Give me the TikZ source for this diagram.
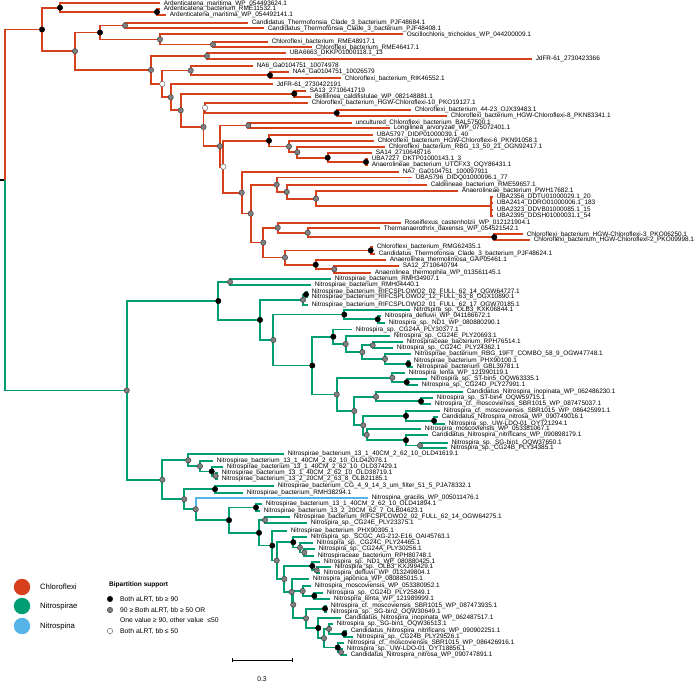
\documentclass[tikz,border=0pt]{standalone}
\usepackage{fontspec}
\setmainfont{Liberation Sans}
\usetikzlibrary{positioning}
\definecolor{chlc}{RGB}{214,64,28}
\definecolor{nitc}{RGB}{0,158,115}
\definecolor{nspc}{RGB}{86,180,233}

\begin{document}
\begin{tikzpicture}[x=0.03cm, y=-0.03cm,
  chl/.style={draw=chlc, line width=1.5pt},
  nit/.style={draw=nitc, line width=1.5pt},
  nsp/.style={draw=nspc, line width=1.5pt},
  tip/.style={anchor=west, inner xsep=3pt, inner ysep=0pt, font=\fontsize{5.5}{5.5}\selectfont},
  hi/.style={circle, draw=black, fill=black, inner sep=0pt, minimum size=4.6pt},
  md/.style={circle, draw=black!75, fill=black!50, inner sep=0pt, minimum size=4.6pt},
  lo/.style={circle, draw=black!60, fill=white, inner sep=0pt, minimum size=4.6pt},
  key/.style={anchor=west, font=\fontsize{5.8}{5.8}\selectfont},
  grp/.style={circle, inner sep=0pt, minimum size=14pt},
]
  \useasboundingbox (0,0) rectangle (700,686);

  % Chloroflexi tips
  \node[tip] (c1) at (160,3.3) {Ardenticatena\_maritima\_WP\_054493624.1};
  \node[tip] (c2) at (160,9) {Ardenticatena\_bacterium\_RME11532.1};
  \node[tip] (c3) at (166,15) {Ardenticatena\_maritima\_WP\_054492141.1};
  \node[tip] (c4) at (248,22.7) {Candidatus\_Thermofonsia\_Clade\_3\_bacterium\_PJF48684.1};
  \node[tip] (c5) at (264,28.3) {Candidatus\_Thermofonsia\_Clade\_3\_bacterium\_PJF48408.1};
  \node[tip] (c6) at (403,34.3) {Oscillochloris\_trichoides\_WP\_044200009.1};
  \node[tip] (c7) at (268,41.7) {Chloroflexi\_bacterium\_RME48917.1};
  \node[tip] (c8) at (312,47.3) {Chloroflexi\_bacterium\_RME46417.1};
  \node[tip] (c9) at (286,53.3) {UBA6663\_DKKP01000118.1\_13};
  \node[tip] (c10) at (532,58.7) {JdFR-61\_2730423366};
  \node[tip] (c11) at (253,65.7) {NA6\_Ga0104751\_10074978};
  \node[tip] (c12) at (289,72.3) {NA4\_Ga0104751\_10026579};
  \node[tip] (c13) at (341,78.3) {Chloroflexi\_bacterium\_RIK46552.1};
  \node[tip] (c14) at (273,84.3) {JdFR-61\_2730422191};
  \node[tip] (c15) at (306,90.7) {SA13\_2710641719};
  \node[tip] (c16) at (311,96.7) {Bellilinea\_caldifistulae\_WP\_082148881.1};
  \node[tip] (c17) at (308,102.7) {Chloroflexi\_bacterium\_HGW-Chloroflexi-10\_PKO19127.1};
  \node[tip] (c18) at (411,110) {Chloroflexi\_bacterium\_44-23\_OJX39483.1};
  \node[tip] (c19) at (447,116) {Chloroflexi\_bacterium\_HGW-Chloroflexi-8\_PKN83341.1};
  \node[tip] (c20) at (352,122.7) {uncultured\_Chloroflexi\_bacterium\_BAL57500.1};
  \node[tip] (c21) at (390,128.3) {Longilinea\_arvoryzae\_WP\_075072401.1};
  \node[tip] (c22) at (373,135) {UBA5797\_DIDP01000039.1\_40};
  \node[tip] (c23) at (374,140.7) {Chloroflexi\_bacterium\_HGW-Chloroflexi-6\_PKN91058.1};
  \node[tip] (c24) at (385,146.7) {Chloroflexi\_bacterium\_RBG\_13\_50\_21\_OGN92417.1};
  \node[tip] (c25) at (372,153.3) {SA14\_2710648716};
  \node[tip] (c26) at (368,159) {UBA7227\_DKTP01000143.1\_3};
  \node[tip] (c27) at (368,165) {Anaerolineae\_bacterium\_UTCFX3\_OQY86431.1};
  \node[tip] (c28) at (399,171.7) {NA7\_Ga0104751\_100097911};
  \node[tip] (c29) at (412,177.5) {UBA5796\_DIDQ01000096.1\_77};
  \node[tip] (c30) at (427,185) {Caldilineae\_bacterium\_RME59657.1};
  \node[tip] (c31) at (458,191) {Anaerolineae\_bacterium\_PWH17682.1};
  \node[tip] (c32) at (493,196.7) {UBA2356\_DDTU01000029.1\_20};
  \node[tip] (c33) at (493,203.3) {UBA2414\_DDRO01000006.1\_183};
  \node[tip] (c34) at (493,210) {UBA2323\_DDVB01000085.1\_15};
  \node[tip] (c35) at (493,216) {UBA2395\_DDSH01000031.1\_54};
  \node[tip] (c36) at (401,222.7) {Roseiflexus\_castenholzii\_WP\_012121904.1};
  \node[tip] (c37) at (380,228.3) {Thermanaerothrix\_daxensis\_WP\_054521542.1};
  \node[tip] (c38) at (523,234.3) {Chloroflexi\_bacterium\_HGW-Chloroflexi-3\_PKO06250.1};
  \node[tip] (c39) at (530,240) {Chloroflexi\_bacterium\_HGW-Chloroflexi-2\_PKO09998.1};
  \node[tip] (c40) at (373,246.7) {Chloroflexi\_bacterium\_RMG62435.1};
  \node[tip] (c41) at (375,254) {Candidatus\_Thermofonsia\_Clade\_3\_bacterium\_PJF48624.1};
  \node[tip] (c42) at (386,260) {Anaerolinea\_thermolimosa\_GAP05461.1};
  \node[tip] (c43) at (399,266) {SA12\_2710640794};
  \node[tip] (c44) at (371,272.7) {Anaerolinea\_thermophila\_WP\_013561145.1};

  % Nitrospirae tips, upper clade
  \node[tip] (n1) at (331,279) {Nitrospirae\_bacterium\_RMH34907.1};
  \node[tip] (n2) at (311,285) {Nitrospirae\_bacterium\_RMH04440.1};
  \node[tip] (n3) at (308,291.7) {Nitrospirae\_bacterium\_RIFCSPLOWO2\_02\_FULL\_62\_14\_OGW64727.1};
  \node[tip] (n4) at (308,297.3) {Nitrospirae\_bacterium\_RIFCSPLOWO2\_12\_FULL\_63\_8\_OGX10890.1};
  \node[tip] (n5) at (308,305) {Nitrospirae\_bacterium\_RIFCSPLOWO2\_01\_FULL\_62\_17\_OGW70185.1};
  \node[tip] (n6) at (410,310) {Nitrospira\_sp.\_OLB3\_KXK06844.1};
  \node[tip] (n7) at (381,315.7) {Nitrospira\_defluvii\_WP\_041186672.1};
  \node[tip] (n8) at (385,322.7) {Nitrospira\_sp.\_ND1\_WP\_080880290.1};
  \node[tip] (n9) at (352,329.5) {Nitrospira\_sp.\_CG24A\_PLY30377.1};
  \node[tip] (n10) at (390,336) {Nitrospira\_sp.\_CG24E\_PLY20693.1};
  \node[tip] (n11) at (403,342.3) {Nitrospiraceae\_bacterium\_RPH76514.1};
  \node[tip] (n12) at (393,348.3) {Nitrospira\_sp.\_CG24C\_PLY24362.1};
  \node[tip] (n13) at (411,354) {Nitrospirae\_bacterium\_RBG\_19FT\_COMBO\_58\_9\_OGW47748.1};
  \node[tip] (n14) at (410,361) {Nitrospirae\_bacterium\_PHX90100.1};
  \node[tip] (n15) at (413,366.7) {Nitrospirae\_bacterium\_GBL39781.1};
  \node[tip] (n16) at (405,373.3) {Nitrospira\_lenta\_WP\_121990119.1};
  \node[tip] (n17) at (427,379.3) {Nitrospira\_sp.\_ST-bin5\_OQW63335.1};
  \node[tip] (n18) at (418,385) {Nitrospira\_sp.\_CG24D\_PLY27991.1};
  \node[tip] (n19) at (463,392.3) {Candidatus\_Nitrospira\_inopinata\_WP\_062486230.1};
  \node[tip] (n20) at (433,398.3) {Nitrospira\_sp.\_ST-bin4\_OQW59715.1};
  \node[tip] (n21) at (431,404.3) {Nitrospira\_cf.\_moscoviensis\_SBR1015\_WP\_087475037.1};
  \node[tip] (n22) at (440,411) {Nitrospira\_cf.\_moscoviensis\_SBR1015\_WP\_086425991.1};
  \node[tip] (n23) at (438,417.3) {Candidatus\_Nitrospira\_nitrosa\_WP\_090749016.1};
  \node[tip] (n24) at (445,424.3) {Nitrospira\_sp.\_UW-LDO-01\_OYT21294.1};
  \node[tip] (n25) at (421,429.3) {Nitrospira\_moscoviensis\_WP\_053381067.1};
  \node[tip] (n26) at (428,435) {Candidatus\_Nitrospira\_nitrificans\_WP\_090898179.1};
  \node[tip] (n27) at (448,442.7) {Nitrospira\_sp.\_SG-bin1\_OQW37650.1};
  \node[tip] (n28) at (447,448.3) {Nitrospira\_sp.\_CG24B\_PLY34385.1};

  % Nitrospirae tips, lower clade
  \node[tip] (m1) at (284,454.3) {Nitrospirae\_bacterium\_13\_1\_40CM\_2\_62\_10\_OLD41619.1};
  \node[tip] (m2) at (213,461) {Nitrospirae\_bacterium\_13\_1\_40CM\_2\_62\_10\_OLD42076.1};
  \node[tip] (m3) at (223,466.7) {Nitrospirae\_bacterium\_13\_1\_40CM\_2\_62\_10\_OLD37429.1};
  \node[tip] (m4) at (218,472.7) {Nitrospirae\_bacterium\_13\_1\_40CM\_2\_62\_10\_OLD38719.1};
  \node[tip] (m5) at (218,479.3) {Nitrospirae\_bacterium\_13\_2\_20CM\_2\_63\_8\_OLB21185.1};
  \node[tip] (m6) at (274,485.7) {Nitrospirae\_bacterium\_CG\_4\_9\_14\_3\_um\_filter\_51\_5\_PJA78332.1};
  \node[tip] (m7) at (243,492.7) {Nitrospirae\_bacterium\_RMH38294.1};
  \node[tip] (m8) at (368,498.3) {Nitrospina\_gracilis\_WP\_005011476.1};
  \node[tip] (m9) at (262,504.3) {Nitrospirae\_bacterium\_13\_1\_40CM\_2\_62\_10\_OLD41894.1};
  \node[tip] (m10) at (260,510.7) {Nitrospirae\_bacterium\_13\_2\_20CM\_62\_7\_OLB04623.1};
  \node[tip] (m11) at (290,516.7) {Nitrospirae\_bacterium\_RIFCSPLOWO2\_02\_FULL\_62\_14\_OGW64275.1};
  \node[tip] (m12) at (307,523.3) {Nitrospira\_sp.\_CG24E\_PLY23375.1};
  \node[tip] (m13) at (287,530.7) {Nitrospirae\_bacterium\_PHX90395.1};
  \node[tip] (m14) at (307,536.7) {Nitrospira\_sp.\_SCGC\_AG-212-E16\_OAI45763.1};
  \node[tip] (m15) at (313,542.7) {Nitrospira\_sp.\_CG24C\_PLY24465.1};
  \node[tip] (m16) at (315,549.3) {Nitrospira\_sp.\_CG24A\_PLY30256.1};
  \node[tip] (m17) at (314,555.7) {Nitrospiraceae\_bacterium\_RPH80748.1};
  \node[tip] (m18) at (320,561.7) {Nitrospira\_sp.\_ND1\_WP\_080880425.1};
  \node[tip] (m19) at (331,567.3) {Nitrospira\_sp.\_OLB3\_KXJ99429.1};
  \node[tip] (m20) at (320,573.3) {Nitrospira\_defluvii\_WP\_013249804.1};
  \node[tip] (m21) at (309,579.3) {Nitrospira\_japonica\_WP\_080885015.1};
  \node[tip] (m22) at (311,586) {Nitrospira\_moscoviensis\_WP\_053380952.1};
  \node[tip] (m23) at (323,592.7) {Nitrospira\_sp.\_CG24D\_PLY25849.1};
  \node[tip] (m24) at (330,599) {Nitrospira\_lenta\_WP\_121989999.1};
  \node[tip] (m25) at (327,605.7) {Nitrospira\_cf.\_moscoviensis\_SBR1015\_WP\_087473935.1};
  \node[tip] (m26) at (327,611.7) {Nitrospira\_sp.\_SG-bin2\_OQW30649.1};
  \node[tip] (m27) at (341,617.7) {Candidatus\_Nitrospira\_inopinata\_WP\_062487517.1};
  \node[tip] (m28) at (333,624) {Nitrospira\_sp.\_SG-bin1\_OQW36513.1};
  \node[tip] (m29) at (347,630.7) {Candidatus\_Nitrospira\_nitrificans\_WP\_090902251.1};
  \node[tip] (m30) at (353,636.7) {Nitrospira\_sp.\_CG24B\_PLY29526.1};
  \node[tip] (m31) at (344,642.7) {Nitrospira\_cf.\_moscoviensis\_SBR1015\_WP\_086426916.1};
  \node[tip] (m32) at (343,649.3) {Nitrospira\_sp.\_UW-LDO-01\_OYT18856.1};
  \node[tip] (m33) at (347,655) {Candidatus\_Nitrospira\_nitrosa\_WP\_090747891.1};

  % inner nodes
  \coordinate (base) at (0,180);
  \coordinate (root) at (5,180);
  \coordinate (chl) at (42,29.5);
  \coordinate (ard) at (60,7.7);
  \coordinate (ardb) at (157,12);
  \coordinate (k3) at (75,51.2);
  \coordinate (k2) at (100,32.5);
  \coordinate (pjf) at (125,25.5);
  \coordinate (osc) at (160,39.4);
  \coordinate (rme) at (213,44.5);
  \coordinate (nb) at (151,69.95);
  \coordinate (uba) at (207,56);
  \coordinate (w1) at (162.3,83.9);
  \coordinate (na) at (190.7,70.5);
  \coordinate (na4) at (270,75.3);
  \coordinate (jd) at (170.7,97.3);
  \coordinate (p1) at (180.7,110.3);
  \coordinate (sab) at (294.3,93.7);
  \coordinate (pb) at (203.5,126.95);
  \coordinate (w) at (205,107.8);
  \coordinate (hgw8) at (336.7,113);
  \coordinate (g146) at (220,146.1);
  \coordinate (lon) at (248.3,125.5);
  \coordinate (w2) at (223.3,166.7);
  \coordinate (uba57) at (269,140.7);
  \coordinate (hgw6) at (289,146.5);
  \coordinate (rbg) at (297.3,152.2);
  \coordinate (sa14) at (327.7,157.7);
  \coordinate (utc) at (366,162);
  \coordinate (na7) at (241.7,192.7);
  \coordinate (cal2) at (250.7,213.6);
  \coordinate (na5) at (276.7,184.7);
  \coordinate (cal) at (286.7,191.9);
  \coordinate (pwh) at (316,198.7);
  \coordinate (poly) at (491,206.3);
  \coordinate (cas) at (263.3,242.6);
  \coordinate (ros) at (277.7,227.7);
  \coordinate (thx) at (307.7,232.7);
  \coordinate (hgw2) at (494.3,237.2);
  \coordinate (ana) at (285,257.5);
  \coordinate (rmg) at (370.7,250.4);
  \coordinate (thl) at (315.7,264.7);
  \coordinate (sa12) at (334.3,269.3);

  \coordinate (nit) at (126.7,390.4);
  \coordinate (nu) at (218.3,301);
  \coordinate (rmh) at (230,282);
  \coordinate (nrf) at (260,319.9);
  \coordinate (rif) at (303,299.8);
  \coordinate (rif2) at (306,294.5);
  \coordinate (nsp) at (273.3,340);
  \coordinate (olb) at (344.3,314.6);
  \coordinate (nd1) at (377.7,319.2);
  \coordinate (cgx) at (312.3,365.5);
  \coordinate (cga) at (333.3,336.7);
  \coordinate (cge) at (345.7,344);
  \coordinate (cgc) at (362.3,352.1);
  \coordinate (rph) at (372.7,345.3);
  \coordinate (ogw) at (385,358.9);
  \coordinate (phx) at (408.3,363.9);
  \coordinate (nsa) at (336.7,394.4);
  \coordinate (len) at (392.3,377.7);
  \coordinate (stb) at (406.7,382.2);
  \coordinate (nsb) at (354.3,411);
  \coordinate (ino) at (376,396.8);
  \coordinate (mos) at (421,401.3);
  \coordinate (nsc) at (363.3,425.3);
  \coordinate (sbr) at (406,415.9);
  \coordinate (uwl) at (434,420.8);
  \coordinate (mvs) at (366.7,434.8);
  \coordinate (nfc) at (406,440.2);
  \coordinate (sg1) at (420,445.5);

  \coordinate (nl) at (162.3,479.8);
  \coordinate (old1) at (188.3,460.3);
  \coordinate (old4) at (200,466.2);
  \coordinate (old3) at (211.7,471.4);
  \coordinate (old2) at (215.7,476);
  \coordinate (g499) at (184.3,499.2);
  \coordinate (pja) at (215,489.2);
  \coordinate (nspn) at (195.7,509.2);
  \coordinate (b520) at (229,520.2);
  \coordinate (olb4) at (256,507.5);
  \coordinate (b532) at (259,532.8);
  \coordinate (ogw2) at (265,520);
  \coordinate (phx2) at (272.3,545.6);
  \coordinate (g561) at (276.7,560.6);
  \coordinate (sgc) at (293.3,542.2);
  \coordinate (cgcc) at (300,547.6);
  \coordinate (cgac) at (304.3,552.5);
  \coordinate (g579) at (284.3,579);
  \coordinate (nd12) at (312.3,566);
  \coordinate (olb3) at (316.7,570.3);
  \coordinate (jap) at (291.7,592);
  \coordinate (g604) at (293.3,604.7);
  \coordinate (mvs2) at (302.7,591);
  \coordinate (len2) at (314.3,595.9);
  \coordinate (g616) at (306,618.3);
  \coordinate (sb2) at (325,608.7);
  \coordinate (ino2) at (318.3,628);
  \coordinate (g638) at (324,638.2);
  \coordinate (sg12) at (329,628.9);
  \coordinate (nfc2) at (344.3,633.7);
  \coordinate (sbr2) at (337.7,647.5);
  \coordinate (uwl2) at (341,652.2);

  % branches
  \draw[line width=1.5pt] (base) -- (root);
  \foreach \p/\c in {root/chl, chl/ard, chl/k3, ard/c1, ard/ardb, ardb/c2, ardb/c3,
      k3/k2, k3/nb, k2/pjf, k2/osc, pjf/c4, pjf/c5, osc/c6, osc/rme, rme/c7, rme/c8,
      nb/uba, nb/w1, uba/c9, uba/c10, w1/na, w1/jd, na/c11, na/na4, na4/c12, na4/c13,
      jd/c14, jd/p1, p1/sab, p1/pb, sab/c15, sab/c16, pb/w, pb/g146, w/c17, w/hgw8,
      hgw8/c18, hgw8/c19, g146/lon, g146/w2, lon/c20, lon/c21, w2/uba57, w2/na7,
      uba57/c22, uba57/hgw6, hgw6/c23, hgw6/rbg, rbg/c24, rbg/sa14, sa14/c25, sa14/utc,
      utc/c26, utc/c27, na7/c28, na7/cal2, cal2/na5, cal2/cas, na5/c29, na5/cal,
      cal/c30, cal/pwh, pwh/c31, pwh/poly, poly/c32, poly/c33, poly/c34, poly/c35,
      cas/ros, cas/ana, ros/c36, ros/thx, thx/c37, thx/hgw2, hgw2/c38, hgw2/c39,
      ana/rmg, ana/thl, rmg/c40, rmg/c41, thl/c42, thl/sa12, sa12/c43, sa12/c44}
    \draw[chl] (\p) |- (\c);
  \foreach \p/\c in {root/nit, nit/nu, nit/nl, nu/rmh, nu/nrf, rmh/n1, rmh/n2,
      nrf/rif, nrf/nsp, rif/rif2, rif/n5, rif2/n3, rif2/n4, nsp/olb, nsp/cgx,
      olb/n6, olb/nd1, nd1/n7, nd1/n8, cgx/cga, cgx/nsa, cga/n9, cga/cge, cge/n10,
      cge/cgc, cgc/rph, cgc/ogw, rph/n11, rph/n12, ogw/n13, ogw/phx, phx/n14, phx/n15,
      nsa/len, nsa/nsb, len/n16, len/stb, stb/n17, stb/n18, nsb/ino, nsb/nsc,
      ino/n19, ino/mos, mos/n20, mos/n21, nsc/sbr, nsc/mvs, sbr/n22, sbr/uwl,
      uwl/n23, uwl/n24, mvs/n25, mvs/nfc, nfc/n26, nfc/sg1, sg1/n27, sg1/n28,
      nl/old1, nl/g499, old1/m1, old1/old4, old4/m2, old4/old3, old3/m3, old3/old2,
      old2/m4, old2/m5, g499/pja, g499/nspn, pja/m6, pja/m7, nspn/b520,
      b520/olb4, b520/b532, olb4/m9, olb4/m10, b532/ogw2, b532/phx2, ogw2/m11, ogw2/m12,
      phx2/m13, phx2/g561, g561/sgc, g561/g579, sgc/m14, sgc/cgcc, cgcc/m15, cgcc/cgac,
      cgac/m16, cgac/m17, g579/nd12, g579/jap, nd12/m18, nd12/olb3, olb3/m19, olb3/m20,
      jap/m21, jap/g604, g604/mvs2, g604/g616, mvs2/m22, mvs2/len2, len2/m23, len2/m24,
      g616/sb2, g616/ino2, sb2/m25, sb2/m26, ino2/m27, ino2/g638, g638/sg12, g638/sbr2,
      sg12/m28, sg12/nfc2, nfc2/m29, nfc2/m30, sbr2/m31, sbr2/uwl2, uwl2/m32, uwl2/m33}
    \draw[nit] (\p) |- (\c);
  \draw[nsp] (nspn) |- (m8);

  % support
  \foreach \n in {chl, ard, ardb, k2, na4, sab, hgw8, uba57, sa14, utc, hgw2, rmg, thl,
      nu, nrf, rif2, olb, nd1, cgx, cga, phx, stb, mos, sbr, uwl, nfc,
      old3, pja, olb4, b520, b532, phx2, sgc, nd12, len2, sb2, ino2, nfc2, sbr2}
    \node[hi] at (\n) {};
  \foreach \n in {k3, pjf, osc, rme, uba, nb, na, jd, p1, pb, g146, lon, hgw6, rbg,
      na7, cal2, na5, cal, pwh, cas, ros, thx, ana, sa12,
      nit, rmh, rif, nsp, cge, cgc, rph, ogw, len, ino, nsa, nsb, nsc, mvs, sg1,
      nl, old1, old4, old2, g499, nspn, ogw2, cgcc, cgac, g561, g579, olb3,
      jap, g604, mvs2, g616, g638, sg12, uwl2}
    \node[md] at (\n) {};
  \foreach \n in {w1, w, w2}
    \node[lo] at (\n) {};

  % legend
  \node[grp, fill=chlc] (kchl) at (22,587) {};
  \node[grp, fill=nitc] (knit) at (22,606) {};
  \node[grp, fill=nspc] (knsp) at (22,626) {};
  \node[anchor=west, font=\fontsize{6.6}{6.6}\selectfont] at (36,587) {Chloroflexi};
  \node[anchor=west, font=\fontsize{6.6}{6.6}\selectfont] at (36,606) {Nitrospirae};
  \node[anchor=west, font=\fontsize{6.6}{6.6}\selectfont] at (36,626) {Nitrospina};
  \node[key, font=\fontsize{5.6}{5.6}\selectfont\bfseries] (bip) at (105,585) {Bipartition support};
  \node[hi] (khi) at (110,599) {};
  \node[md] (kmd) at (110,610) {};
  \node[lo] (klo) at (110,631) {};
  \node[key] at (116,599) {Both aLRT, bb ≥ 90};
  \node[key] at (116,610) {90 ≥ Both aLRT, bb ≥ 50 OR};
  \node[key] at (116,620.5) {One value ≥ 90, other value \ ≤50};
  \node[key] at (116,631) {Both aLRT, bb ≤ 50};

  % scale
  \coordinate (s0) at (232,660);
  \coordinate (s1) at (292,660);
  \draw[line width=0.6pt] (s0) -- (s1);
  \draw[line width=0.6pt] (s0) ++(0,-2) -- ++(0,4);
  \draw[line width=0.6pt] (s1) ++(0,-2) -- ++(0,4);
  \node[font=\fontsize{5.8}{5.8}\selectfont] at (262,679) {0.3};
\end{tikzpicture}
\end{document}
